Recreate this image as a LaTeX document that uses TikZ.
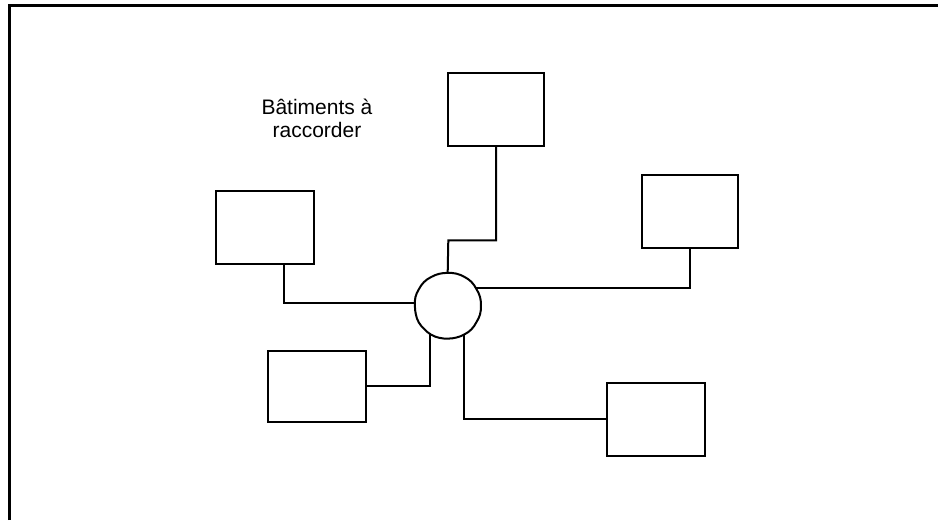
\documentclass[tikz,border=0pt]{standalone}
\usepackage{fontspec}
\setmainfont{Liberation Sans}
\begin{document}
\begin{tikzpicture}[x=1pt,y=-1pt,
  wire/.style={line width=2pt,line join=miter},
  building/.style={draw,line width=2pt,minimum width=98pt,minimum height=73pt,inner sep=0pt},
  frameline/.style={line width=3pt}]
\useasboundingbox (0,0) rectangle (938,520);
% outer frame (left and top edges)
\draw[frameline] (9.5,520) -- (9.5,5.5) -- (938,5.5);

% caption
\node[align=center,font=\fontsize{21}{22.6}\selectfont,inner sep=0pt,anchor=base] (label) at (317,137.3)
  {Bâtiments à\\raccorder};

% buildings
\node[building] (A) at (265,227.2) {};
\node[building,minimum width=96pt] (B) at (496.2,109.4) {};
\node[building,minimum width=96pt] (C) at (690.2,211.5) {};
\node[building,minimum height=71pt] (D) at (317.2,386.4) {};
\node[building] (E) at (655.7,419.3) {};

% central junction, slightly irregular outline
\node[circle,minimum size=66.6pt,inner sep=0pt] (hub) at (447.7,305.7) {};
\draw[wire,shift={(hub)}] plot[smooth cycle,tension=0.7] coordinates {
  (0:33.2) (15:33.5) (30:33.1) (45:33.5) (60:33.2) (75:33.0) (90:32.9) (105:33.2)
  (120:33.4) (135:33.1) (150:33.4) (165:33.0) (180:32.8) (195:33.4) (210:33.2)
  (225:33.5) (240:33.1) (255:33.0) (270:32.8) (285:33.2) (300:33.3) (315:33.6)
  (330:33.2) (345:33.5)};

% connections
\coordinate (bendB) at (448.3,240.3);
\draw[wire] (hub.north) -- (bendB) -| (B.south);
\draw[wire] (hub.176) -| ([xshift=19pt]A.south);
\draw[wire] (hub.31.5) -| (C.south);
\draw[wire] (D.east) -| (hub.239.3);
\draw[wire] (E.west) -| (hub.299.3);
\end{tikzpicture}
\end{document}
